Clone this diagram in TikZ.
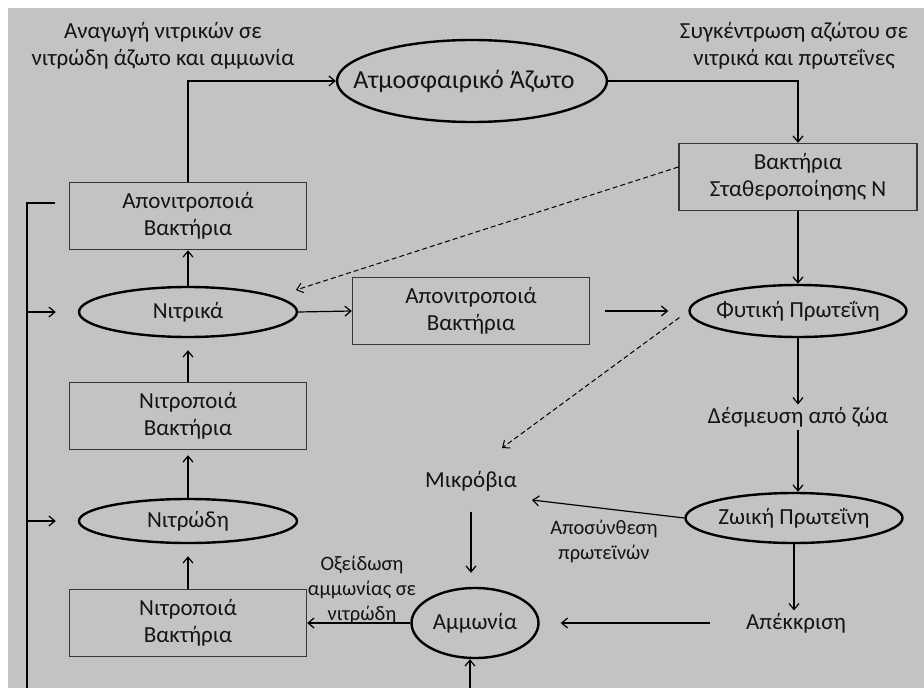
\documentclass[tikz,border=0pt]{standalone}
\usepackage{fontspec}
\setmainfont{Carlito}
\usetikzlibrary{arrows.meta,shapes.geometric}
\definecolor{bggray}{RGB}{195,195,195}
\definecolor{inkgray}{RGB}{20,20,20}
\definecolor{boxline}{RGB}{55,55,55}
\newcommand{\pooltext}[1]{\makebox[0pt]{#1}}
\tikzset{
  bact/.style={draw=boxline, line width=1.4pt, minimum width=237pt, minimum height=67pt, align=center, inner sep=0pt},
  pool/.style={ellipse, draw=black, line width=2.4pt, inner sep=0pt},
  note/.style={align=center, inner sep=2pt},
  small/.style={font=\fontsize{20.5}{25}\selectfont},
  dash line/.style={dashed, dash pattern=on 5pt off 3pt, line width=1pt},
}
\begin{document}
\begin{tikzpicture}[x=1pt, y=-1pt, >={Straight Barb[length=6pt,width=10pt]}, font=\fontsize{23}{27}\selectfont, text=inkgray, line width=1.2pt]
\useasboundingbox (0,0) rectangle (924,688);
\fill[white] (0,0) rectangle (924,688);
\fill[bggray] (8,8) rectangle (924,688);

% labels at the top
\node[note] (redlbl) at (163,46) {Αναγωγή νιτρικών σε\\νιτρώδη άζωτο και αμμωνία};
\node[note] (conclbl) at (794,46) {Συγκέντρωση αζώτου σε\\νιτρικά και πρωτεΐνες};

% pools and bacteria
\node[pool, minimum width=270pt, minimum height=82pt] (atm) at (472,81) {\pooltext{\fontsize{26}{30}\selectfont\hspace*{-16pt}Ατμοσφαιρικό Άζωτο}};
\node[bact] (denit1) at (188,216) {Απονιτροποιά\\Βακτήρια};
\node[bact, minimum width=238pt] (fix) at (798,177) {Βακτήρια\\Σταθεροποίησης N};
\node[pool, minimum width=218pt, minimum height=50pt] (nitrate) at (188,312) {\pooltext{Νιτρικά}};
\node[bact] (denit2) at (471,311) {Απονιτροποιά\\Βακτήρια};
\node[pool, minimum width=217pt, minimum height=52pt] (plant) at (798,311) {\pooltext{Φυτική Πρωτεΐνη}};
\node[bact] (nitr1) at (188,416) {Νιτροποιά\\Βακτήρια};
\node[note] (bind) at (798,417) {Δέσμευση από ζώα};
\node[note] (microbes) at (471,481) {Μικρόβια};
\node[pool, minimum width=218pt, minimum height=44pt] (nitrite) at (188,521) {\pooltext{Νιτρώδη}};
\node[pool, minimum width=217pt, minimum height=50pt] (animal) at (794,518) {\pooltext{Ζωική Πρωτεΐνη}};
\node[bact] (nitr2) at (188,623) {Νιτροποιά\\Βακτήρια};
\node[pool, minimum width=127pt, minimum height=70pt] (ammonia) at (475,623) {\pooltext{Αμμωνία}};
\node[note] (excr) at (796,623) {Απέκκριση};
\node[note, small] (decomp) at (604,541) {Αποσύνθεση\\πρωτεϊνών};
\node[note, small] (oxid) at (362,590) {Οξείδωση\\αμμωνίας σε\\νιτρώδη};

% free ends
\coordinate (dashA) at (296,290);
\coordinate (dashB) at (502,448);
\coordinate (decEnd) at (532,500);
\coordinate (bottomA) at (470,688);
\coordinate (fbTop) at (55,203);
\coordinate (fbBot) at (27,688);

% connectors
\draw[->] (denit1.north) |- (atm.west);
\draw[->] (atm.east) -| (fix.north);
\draw[->] (fix.south) -- (plant.north);
\draw[->, dash line] ([yshift=10pt]fix.west) -- (dashA);
\draw[->] (nitrate.north) -- (denit1.south);
\draw[->, shorten >=12pt] (nitr1.north) -- (nitrate.south);
\draw[->, shorten >=5pt] (nitrite.north) -- (nitr1.south);
\draw[->, shorten >=12pt] (nitr2.north) -- (nitrite.south);
\draw[->] (nitrate.east) -- (denit2.west);
\draw[->, shorten <=15pt, shorten >=20pt] (denit2.east) -- (plant.west);
\draw[->, dash line, shorten <=11pt] (plant.west) -- (dashB);
\draw[->] (plant.south) -- (bind.north);
\draw[->] (bind.south) -- (bind.south |- animal.north);
\draw[->] (animal.west) -- (decEnd);
\draw[->, shorten <=18pt, shorten >=14pt] (microbes.south) -- (microbes.south |- ammonia.north);
\draw[->] (animal.south) -- (animal.south |- excr.north);
\draw[->, shorten <=33pt, shorten >=21pt] (excr.west) -- (ammonia.east);
\draw[->] (ammonia.west) -- (nitr2.east);
\draw[->] (bottomA) -- (bottomA |- ammonia.south);

% feedback line on the left
\draw[line width=1.8pt] (fbTop) -| (fbBot);
\draw[->, shorten >=22pt] (fbBot |- nitrate.west) -- (nitrate.west);
\draw[->, shorten >=22pt] (fbBot |- nitrite.west) -- (nitrite.west);
\end{tikzpicture}
\end{document}
